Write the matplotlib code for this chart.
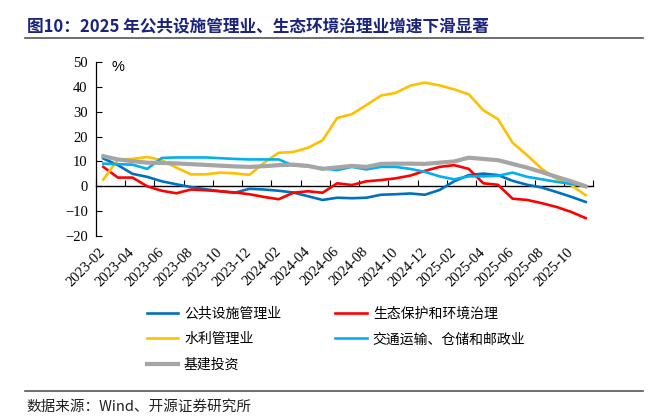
import numpy as np
import matplotlib
matplotlib.use('Agg')
import matplotlib.pyplot as plt
from matplotlib.lines import Line2D

plt.rcParams['font.family'] = ['Noto Sans CJK SC', 'DejaVu Sans']

# monthly, 2023-02 .. 2025-11
months = ['2023-02', '2023-03', '2023-04', '2023-05', '2023-06', '2023-07', '2023-08',
          '2023-09', '2023-10', '2023-11', '2023-12', '2024-01', '2024-02', '2024-03',
          '2024-04', '2024-05', '2024-06', '2024-07', '2024-08', '2024-09', '2024-10',
          '2024-11', '2024-12', '2025-01', '2025-02', '2025-03', '2025-04', '2025-05',
          '2025-06', '2025-07', '2025-08', '2025-09', '2025-10', '2025-11']

public_fac = [11.2, 8.5, 5.0, 3.8, 2.0, 0.8, -0.3, -1.2, -2.0, -2.6, -1.0, -1.3,
              -1.8, -2.5, -4.0, -5.5, -4.6, -4.8, -4.6, -3.4, -3.2, -2.9, -3.4, -1.5,
              2.0, 4.5, 5.1, 4.5, 2.2, 0.6, -0.5, -2.3, -4.2, -6.3]
eco_env = [7.8, 3.5, 3.5, 0.0, -1.8, -2.8, -1.3, -1.6, -2.0, -2.5, -3.2, -4.3,
           -5.2, -2.6, -2.0, -2.6, 1.2, 0.5, 2.0, 2.5, 3.2, 4.3, 6.2, 7.8,
           8.5, 7.0, 1.2, 0.6, -5.0, -5.5, -6.8, -8.3, -10.3, -12.8]
water = [2.7, 10.8, 11.0, 11.8, 10.5, 7.5, 4.8, 4.8, 5.5, 5.2, 4.6, 9.5,
         13.5, 13.8, 15.5, 18.5, 27.5, 29.0, 32.7, 36.5, 37.6, 40.5, 41.7, 40.6,
         39.0, 37.0, 30.6, 27.0, 17.5, 12.5, 7.0, 3.0, 0.5, -3.6]
transport = [9.1, 8.9, 8.7, 7.0, 11.4, 11.6, 11.6, 11.6, 11.3, 11.0, 10.8, 10.8,
             10.8, 8.3, 8.1, 7.3, 6.5, 7.8, 6.8, 7.8, 7.8, 7.0, 5.8, 4.0,
             2.8, 4.0, 4.0, 4.2, 5.5, 3.8, 2.8, 1.8, 1.0, 0.0]
infra = [12.1, 10.8, 10.1, 9.5, 9.4, 9.2, 8.9, 8.6, 8.3, 8.0, 7.8, 8.1,
         8.5, 8.7, 8.2, 7.0, 7.6, 8.2, 7.8, 9.0, 9.1, 9.1, 9.0, 9.5,
         10.0, 11.5, 11.0, 10.5, 9.0, 7.5, 5.7, 3.8, 2.0, 0.0]

fig = plt.figure(figsize=(6.55, 4.19), dpi=100)
ax = fig.add_axes([96/655, 1-236/419, 497/655, 174/419])

x = np.arange(len(months))
l1, = ax.plot(x, public_fac, color='#0070C0', lw=1.9, label='公共设施管理业')
l2, = ax.plot(x, eco_env, color='#FF0000', lw=1.9, label='生态保护和环境治理')
l3, = ax.plot(x, water, color='#FFC000', lw=1.9, label='水利管理业')
l4, = ax.plot(x, transport, color='#00B0F0', lw=1.9, label='交通运输、仓储和邮政业')
l5, = ax.plot(x, infra, color='#A5A5A5', lw=3.0, label='基建投资')

ax.set_xlim(-0.5, len(months) - 0.5)
ax.set_ylim(-20, 50)
ax.set_yticks(range(-20, 51, 10))
ax.tick_params(axis='y', direction='in', length=4, width=0.8, pad=6, labelsize=10.5)
for t in ax.get_yticklabels():
    t.set_family('Liberation Serif')

# labels every 2 months at the bottom
ax.set_xticks(x[::2])
ax.set_xticklabels(months[::2], rotation=45, ha='right', va='center',
                   rotation_mode='anchor', family='Liberation Serif', fontsize=10.5)
ax.tick_params(axis='x', length=0, pad=10)

for s in ['top', 'right', 'bottom']:
    ax.spines[s].set_visible(False)
ax.spines['left'].set_linewidth(0.9)

# axis line with tick marks at zero
sec = ax.secondary_xaxis(20/70)
sec.set_xticks(np.arange(-0.5, len(months), 2))
sec.tick_params(direction='in', length=4, width=0.8, labelbottom=False, labeltop=False)
sec.spines['bottom'].set_linewidth(1.0)

ax.text(118/655, 1-67/419, '%', transform=fig.transFigure, fontsize=10.5,
        ha='center', va='center', family='Liberation Sans')

# column-major order so rows read left to right
handles = [l1, l3, l5, l2, l4]
fig.legend(handles, [h.get_label() for h in handles], loc='upper left',
           bbox_to_anchor=(134/655, 1-294/419), ncol=2,
           frameon=False, fontsize=10, handlelength=2.3, handletextpad=0.4,
           columnspacing=3.9, labelspacing=0.85)

fig.text(27/655, 1-26/419, '图10：2025 年公共设施管理业、生态环境治理业增速下滑显著',
         fontsize=12, fontweight='bold', color='#1B237A', va='center')
fig.add_artist(Line2D([25/655, 643/655], [1-38/419]*2, color='#555555', lw=1.2))
fig.add_artist(Line2D([25/655, 643/655], [1-391/419]*2, color='#555555', lw=1.2))
fig.text(26/655, 1-407/419, '数据来源：Wind、开源证券研究所', fontsize=10.5,
         color='#222222', va='center')

fig.savefig('out.png', dpi=100)
